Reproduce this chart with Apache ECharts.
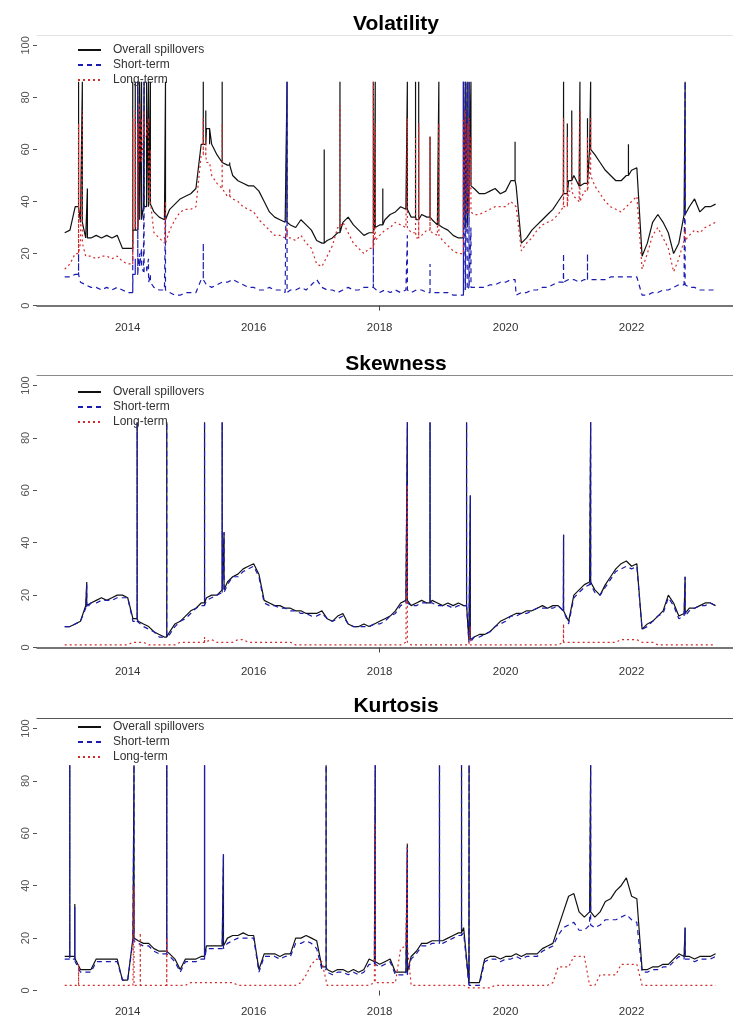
<!DOCTYPE html>
<html>
<head>
<meta charset="utf-8">
<title>Spillovers: volatility, skewness, kurtosis</title>
<script src="https://cdn.jsdelivr.net/npm/echarts@6/dist/echarts.min.js"></script>
<style>
  html, body { margin: 0; padding: 0; background: #fff; }
  #chart { width: 733px; height: 1020px; }
</style>
</head>
<body>
<div id="chart"></div>
<script>
// Monthly observations starting January 2013 (decimal-year x axis)
const START_YEAR = 2013;
const seriesNames = ['Overall spillovers', 'Short-term', 'Long-term'];
const panelTitles = ['Volatility', 'Skewness', 'Kurtosis'];
const yearTicks = [2014, 2016, 2018, 2020, 2022];
const valueTicks = [0, 20, 40, 60, 80, 100];

// ---- Volatility ----
const volOverall = [
  28, 29, 38, 32, 26, 26, 27, 26, 27, 26, 27, 22,
  22, 29, 33, 38, 39, 36, 34, 33, 37, 39, 41, 42,
  43, 45, 62, 68, 62, 58, 55, 54, 50, 48, 47, 46,
  46, 44, 40, 36, 34, 33, 32, 31, 30, 33, 31, 29,
  25, 24, 25, 26, 28, 32, 34, 31, 29, 27, 28, 30,
  31, 33, 35, 36, 38, 37, 34, 33, 35, 34, 33, 31,
  30, 29, 27, 26, 30, 46, 45, 43, 43, 44, 45, 43,
  44, 48, 46, 24, 26, 29, 31, 33, 35, 37, 40, 43,
  48, 50, 46, 47, 60, 58, 55, 52, 50, 48, 48, 50,
  52, 53, 19, 24, 32, 35, 32, 28, 20, 24, 35, 38,
  41, 36, 38, 38, 39
];
const volShort = [
  11, 11, 12, 9, 8, 7, 7, 6, 7, 6, 7, 6,
  5, 12, 15, 13, 9, 7, 6, 6, 5, 4, 4, 5,
  5, 5, 10, 8, 7, 8, 9, 9, 10, 9, 8, 7,
  7, 6, 6, 7, 6, 6, 5, 6, 6, 7, 6, 8,
  10, 7, 6, 6, 5, 6, 7, 6, 6, 7, 7, 7,
  5, 6, 5, 6, 5, 6, 5, 6, 6, 5, 5, 5,
  5, 5, 4, 4, 6, 7, 7, 7, 7, 8, 8, 9,
  9, 10, 4, 5, 5, 6, 6, 7, 7, 8, 9, 9,
  10, 10, 9, 10, 10, 10, 10, 10, 11, 11, 11, 11,
  11, 11, 4, 4, 5, 5, 6, 6, 7, 8, 8, 7,
  7, 6, 6, 6, 6
];
const volLong = [
  14, 16, 20, 24, 19, 19, 18, 19, 19, 18, 19, 17,
  16, 30, 55, 65, 40, 28, 26, 24, 29, 33, 36, 37,
  37, 38, 58, 55, 50, 47, 45, 42, 41, 40, 38, 37,
  36, 33, 31, 29, 27, 27, 26, 26, 25, 27, 24, 22,
  16, 15, 19, 23, 30, 32, 28, 24, 22, 20, 22, 25,
  27, 29, 30, 32, 31, 30, 28, 26, 27, 29, 28, 27,
  25, 23, 21, 20, 35, 36, 35, 35, 36, 37, 38, 38,
  38, 40, 38, 21, 24, 26, 29, 31, 32, 33, 35, 38,
  44, 42, 40, 44, 50, 46, 43, 40, 38, 37, 36, 38,
  40, 42, 14, 20, 27, 30, 26, 22, 13, 18, 25, 27,
  29, 28, 30, 31, 32
];
// one-day jumps: date, overall, short-term, long-term (null = no jump)
const volSpikeDates   = [2013.22, 2013.28, 2013.36, 2014.08, 2014.12, 2014.16, 2014.19, 2014.22, 2014.26, 2014.30, 2014.33, 2014.36, 2014.60, 2015.20, 2015.24, 2015.30, 2015.50, 2015.62, 2016.53, 2017.12, 2017.37, 2017.90, 2017.93, 2018.05, 2018.44, 2018.57, 2018.62, 2018.80, 2018.94, 2019.33, 2019.36, 2019.39, 2019.42, 2019.45, 2020.15, 2020.92, 2020.98, 2021.05, 2021.18, 2021.30, 2021.35, 2021.95, 2022.85];
const volSpikeOverall = [86, 86, 45, 86, 86, 86, 86, 86, 86, 86, 86, 86, 86, 86, 75, 62, 86, 55, 86, 60, 86, 86, 86, 45, 86, 86, 86, 65, 86, 86, 86, 86, 86, 86, 63, 86, 70, 75, 86, 72, 86, 62, 86];
const volSpikeShort   = [20, null, null, 25, 18, 86, 20, 22, 86, 15, 18, 12, 35, 24, null, null, null, null, 86, null, null, 26, null, null, 27, null, null, 16, null, 86, 86, 86, 86, 30, 10, 20, null, null, null, 20, null, null, 86];
const volSpikeLong    = [70, 75, null, 72, 75, 70, 78, 72, 75, 70, 72, 60, 40, 72, 65, 55, 70, 45, 30, null, 77, 86, 70, null, 72, 65, 70, 65, 70, 72, 75, 70, 72, 65, null, 72, 65, 70, 75, 65, 72, null, 30];

// ---- Skewness ----
const skewOverall = [
  8, 8, 9, 10, 16, 17, 18, 19, 18, 19, 20, 20,
  19, 11, 10, 9, 8, 6, 5, 4, 6, 9, 10, 12,
  14, 15, 17, 19, 20, 20, 22, 25, 27, 28, 30, 31,
  32, 28, 18, 17, 16, 16, 15, 15, 14, 14, 13, 13,
  13, 14, 11, 10, 12, 13, 9, 8, 8, 9, 8, 9,
  10, 11, 12, 14, 17, 18, 16, 17, 18, 17, 18, 17,
  16, 17, 16, 17, 16, 3, 4, 5, 5, 6, 8, 10,
  11, 12, 13, 13, 14, 14, 15, 16, 15, 16, 16, 14,
  10, 20, 22, 24, 25, 22, 20, 24, 27, 30, 32, 33,
  31, 32, 7, 9, 10, 12, 14, 20, 17, 12, 13, 15,
  15, 16, 17, 17, 16
];
const skewShort = [
  8, 8, 9, 10, 15, 17, 17, 18, 18, 18, 19, 19,
  19, 10, 10, 8, 7, 6, 4, 4, 5, 8, 10, 11,
  13, 15, 16, 18, 19, 20, 21, 24, 27, 27, 29, 30,
  31, 27, 17, 16, 16, 15, 15, 14, 14, 13, 13, 12,
  12, 13, 11, 10, 11, 12, 9, 8, 8, 8, 8, 9,
  9, 10, 12, 13, 16, 17, 16, 16, 17, 17, 17, 16,
  16, 16, 15, 16, 16, 2, 4, 4, 5, 6, 8, 9,
  10, 12, 12, 13, 13, 14, 15, 15, 15, 15, 16, 14,
  9, 19, 21, 23, 24, 21, 20, 23, 26, 29, 30, 31,
  30, 31, 7, 8, 10, 12, 13, 19, 16, 11, 12, 14,
  15, 16, 16, 17, 16
];
const skewLong = [
  1, 1, 1, 1, 1, 1, 1, 1, 1, 1, 1, 1,
  1, 2, 2, 2, 1, 1, 1, 1, 1, 1, 2, 2,
  2, 2, 2, 2, 3, 2, 2, 2, 2, 3, 3, 2,
  2, 2, 2, 2, 2, 2, 2, 2, 1, 1, 1, 1,
  1, 1, 1, 1, 1, 1, 1, 1, 1, 1, 1, 1,
  1, 1, 1, 1, 1, 2, 1, 1, 1, 1, 1, 1,
  1, 1, 1, 1, 1, 1, 1, 1, 1, 1, 1, 1,
  1, 1, 1, 1, 1, 1, 1, 1, 1, 1, 1, 2,
  2, 2, 2, 2, 2, 2, 2, 2, 2, 2, 3, 3,
  3, 3, 2, 2, 2, 1, 1, 1, 1, 1, 1, 1,
  1, 1, 1, 1, 1
];
const skewSpikeDates   = [2013.35, 2014.15, 2014.62, 2015.22, 2015.50, 2015.53, 2018.44, 2018.80, 2019.38, 2019.44, 2020.92, 2021.35, 2022.85];
const skewSpikeOverall = [25, 86, 86, 86, 86, 44, 86, 86, 86, 58, 43, 86, 27];
const skewSpikeShort   = [24, 86, 86, 86, 86, 44, 86, 86, 86, 58, 43, 86, 27];
const skewSpikeLong    = [null, null, null, 4, null, null, 62, null, null, 8, 9, null, null];

// ---- Kurtosis ----
const kurtOverall = [
  13, 13, 12, 8, 8, 8, 12, 12, 12, 12, 12, 4,
  4, 20, 19, 18, 18, 16, 15, 15, 14, 12, 8, 12,
  12, 12, 13, 17, 17, 17, 17, 20, 21, 21, 22, 21,
  21, 8, 14, 14, 14, 13, 14, 14, 20, 20, 21, 20,
  19, 9, 8, 7, 8, 8, 7, 8, 7, 8, 12, 11,
  10, 11, 12, 7, 7, 7, 13, 15, 18, 18, 19, 19,
  19, 20, 21, 22, 24, 3, 3, 3, 12, 13, 13, 12,
  13, 13, 14, 13, 14, 14, 14, 16, 17, 18, 24, 30,
  36, 37, 30, 28, 30, 28, 30, 34, 35, 38, 40, 43,
  36, 35, 8, 8, 9, 9, 10, 10, 12, 14, 13, 13,
  12, 13, 13, 13, 14
];
const kurtShort = [
  12, 12, 11, 7, 7, 7, 11, 11, 11, 11, 11, 4,
  4, 19, 18, 17, 17, 15, 14, 14, 13, 11, 7, 11,
  11, 11, 12, 16, 16, 16, 16, 18, 19, 20, 20, 20,
  20, 7, 13, 13, 13, 12, 13, 13, 18, 18, 19, 18,
  16, 8, 7, 6, 7, 7, 6, 7, 6, 7, 10, 10,
  9, 10, 11, 6, 6, 6, 12, 14, 17, 17, 18, 18,
  18, 19, 20, 21, 22, 2, 2, 2, 11, 12, 12, 11,
  12, 12, 13, 12, 13, 13, 13, 15, 16, 17, 21, 24,
  25, 26, 23, 23, 25, 24, 25, 27, 27, 27, 28, 29,
  27, 26, 7, 7, 8, 8, 9, 9, 11, 13, 12, 12,
  11, 12, 12, 12, 13
];
const kurtLong = [
  2, 2, 2, 2, 2, 2, 2, 2, 2, 2, 2, 2,
  2, 2, 2, 2, 2, 2, 2, 2, 2, 2, 2, 2,
  3, 3, 3, 3, 3, 3, 3, 3, 3, 2, 2, 2,
  2, 2, 2, 2, 2, 2, 2, 2, 2, 3, 6, 10,
  12, 11, 2, 2, 2, 2, 2, 2, 2, 2, 2, 3,
  3, 3, 3, 3, 16, 17, 2, 2, 2, 2, 2, 2,
  2, 2, 2, 2, 2, 1, 1, 1, 1, 1, 2, 2,
  2, 2, 2, 2, 2, 2, 2, 2, 2, 3, 9, 9,
  9, 13, 13, 13, 2, 2, 6, 6, 6, 6, 10, 10,
  10, 10, 2, 2, 2, 2, 2, 2, 2, 2, 2, 2,
  2, 2, 2, 2, 2
];
const kurtSpikeDates   = [2013.08, 2013.16, 2013.22, 2014.10, 2014.20, 2014.62, 2015.22, 2015.52, 2017.15, 2017.93, 2018.44, 2018.95, 2019.30, 2019.42, 2021.35, 2022.85];
const kurtSpikeOverall = [86, 33, null, 86, null, 86, 86, 52, 86, 86, 56, 86, 86, 86, 86, 24];
const kurtSpikeShort   = [86, 32, null, 86, null, 86, 86, 52, 86, 86, 55, 86, 86, 86, 86, 24];
const kurtSpikeLong    = [null, null, 10, 40, 22, 20, null, null, null, 64, 56, null, null, null, null, null];

// Merge the monthly path with one-day jumps: each jump rises from the
// previous observation and falls straight back to it.
function buildPath(base, spikeDates, spikeVals) {
  const out = [];
  let s = 0;
  const order = spikeDates.map((d, i) => i).sort((a, b) => spikeDates[a] - spikeDates[b]);
  for (let i = 0; i < base.length; i++) {
    const t = START_YEAR + i / 12;
    while (s < order.length && spikeDates[order[s]] < t) {
      const k = order[s++];
      const v = spikeVals[k];
      if (v == null || i === 0) continue;
      const prev = base[i - 1];
      out.push([spikeDates[k], prev], [spikeDates[k], v], [spikeDates[k], prev]);
    }
    out.push([t, base[i]]);
  }
  return out;
}

const panels = [
  { overall: volOverall, short: volShort, long: volLong,
    dates: volSpikeDates, so: volSpikeOverall, ss: volSpikeShort, sl: volSpikeLong },
  { overall: skewOverall, short: skewShort, long: skewLong,
    dates: skewSpikeDates, so: skewSpikeOverall, ss: skewSpikeShort, sl: skewSpikeLong },
  { overall: kurtOverall, short: kurtShort, long: kurtLong,
    dates: kurtSpikeDates, so: kurtSpikeOverall, ss: kurtSpikeShort, sl: kurtSpikeLong }
];

const FONT = '"Liberation Sans", Arial, Helvetica, sans-serif';
const COLORS = { overall: '#111111', short: '#1b1bb0', long: '#d22b2b' };
const grids = [
  { left: 37, right: 0, top: 35, height: 281 },
  { left: 37, right: 0, top: 375, height: 283 },
  { left: 37, right: 0, top: 718, height: 283 }
];
const titleTops = [9, 349, 691];
const legendTops = [39, 381, 716];
const topLineColors = ['#e4e4e4', '#8a8a8a', '#555555'];
const bottomLineShow = [true, true, false];
const labelMargins = [6, 8, 5];

const option = {
  animation: false,
  backgroundColor: '#ffffff',
  textStyle: { fontFamily: FONT },
  title: panelTitles.map((t, i) => ({
    text: t, left: 391, top: titleTops[i], textAlign: 'center',
    textStyle: { fontFamily: FONT, fontSize: 21, fontWeight: 'bold', color: '#000' }
  })),
  legend: panelTitles.map((t, i) => ({
    orient: 'vertical', left: 72, top: legendTops[i],
    itemWidth: 23, itemHeight: 12, itemGap: 3,
    selectedMode: false,
    itemStyle: { opacity: 0 },
    textStyle: { fontFamily: FONT, fontSize: 12, color: '#333', padding: [0, 0, 0, 7] },
    data: seriesNames
  })),
  grid: grids,
  xAxis: [],
  yAxis: [],
  series: []
};

grids.forEach((g, i) => {
  // bottom date axis
  option.xAxis.push({
    type: 'value', gridIndex: i, position: 'bottom',
    min: 2012.56, max: 2023.61,
    axisLine: { show: bottomLineShow[i], lineStyle: { color: '#4a4a4a', width: 1.5 } },
    axisTick: { show: true, customValues: [2018], length: 5, lineStyle: { color: '#444' } },
    axisLabel: { customValues: yearTicks, color: '#333', fontSize: 11.5, margin: labelMargins[i],
                 fontFamily: FONT, formatter: v => String(v) },
    splitLine: { show: false }
  });
  // top frame line
  option.xAxis.push({
    type: 'value', gridIndex: i, position: 'top',
    min: 2012.56, max: 2023.61,
    axisLine: { show: true, lineStyle: { color: topLineColors[i], width: 1.2 } },
    axisTick: { show: false }, axisLabel: { show: false }, splitLine: { show: false }
  });
  option.yAxis.push({
    type: 'value', gridIndex: i, min: -4, max: 104,
    axisLine: { show: false },
    axisTick: { show: true, customValues: valueTicks, length: 4, lineStyle: { color: '#555' } },
    axisLabel: { customValues: valueTicks, rotate: 90, color: '#555', fontSize: 11,
                 fontFamily: FONT, margin: 6 },
    splitLine: { show: false }
  });
  const p = panels[i];
  const xi = i * 2;
  option.series.push(
    { name: seriesNames[0], type: 'line', xAxisIndex: xi, yAxisIndex: i, symbol: 'none',
      data: buildPath(p.overall, p.dates, p.so),
      lineStyle: { color: COLORS.overall, width: 1.2 }, itemStyle: { color: COLORS.overall }, z: 2 },
    { name: seriesNames[1], type: 'line', xAxisIndex: xi, yAxisIndex: i, symbol: 'none',
      data: buildPath(p.short, p.dates, p.ss),
      lineStyle: { color: COLORS.short, width: 1.2, type: [5, 4] }, itemStyle: { color: COLORS.short }, z: 3 },
    { name: seriesNames[2], type: 'line', xAxisIndex: xi, yAxisIndex: i, symbol: 'none',
      data: buildPath(p.long, p.dates, p.sl),
      lineStyle: { color: COLORS.long, width: 1.2, type: [2, 3] }, itemStyle: { color: COLORS.long }, z: 4 }
  );
});

const chart = echarts.init(document.getElementById('chart'), null, { renderer: 'canvas' });
chart.setOption(option);
</script>
</body>
</html>
